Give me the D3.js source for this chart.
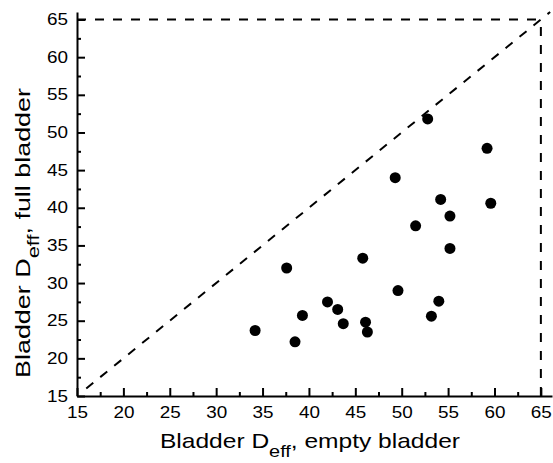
<!DOCTYPE html>
<html>
<head>
<meta charset="utf-8">
<script src="https://cdn.jsdelivr.net/npm/d3@7"></script>
<style>
  body { margin: 0; background: #fff; }
  svg { display: block; font-family: "Liberation Sans", Arial, sans-serif; }
  .axis path, .axis line { stroke: #000; stroke-width: 2; }
  .axis text { font-size: 16px; fill: #000; }
  .ref { fill: none; stroke: #000; stroke-width: 2; stroke-dasharray: 9,9; }
</style>
</head>
<body>
<div class="graph"></div>
<script>
// empty bladder Deff (x) vs full bladder Deff (y)
var emptyDeff = [52.8, 59.2, 49.3, 54.2, 59.6, 55.2, 51.5, 55.2, 45.8, 37.6, 49.6,
                 42.0, 54.0, 43.1, 39.3, 53.2, 43.7, 46.1, 46.3, 34.2, 38.5];
var fullDeff  = [51.8, 47.9, 44.0, 41.1, 40.6, 38.9, 37.6, 34.6, 33.3, 32.0, 29.0,
                 27.5, 27.6, 26.5, 25.7, 25.6, 24.6, 24.8, 23.5, 23.7, 22.2];
var majorTicks = [15, 20, 25, 30, 35, 40, 45, 50, 55, 60, 65];
var minorTicks = [17.5, 22.5, 27.5, 32.5, 37.5, 42.5, 47.5, 52.5, 57.5, 62.5];
var diagonal = [16, 66];

var options = { width: 553, height: 463 };

var points = emptyDeff.map(function(d, i) {
  return { x: d, y: fullDeff[i] };
});

var xScale = d3.scaleLinear().domain([15, 66.2]).range([77, 552]),
    yScale = d3.scaleLinear().domain([15, 66]).range([396, 12]);

var svg = d3.select(".graph").append("svg")
    .attr("width", options.width)
    .attr("height", options.height);

// reference lines
svg.append("line")
  .attr("class", "ref")
  .attr("x1", xScale(15)).attr("x2", xScale(65))
  .attr("y1", yScale(65)).attr("y2", yScale(65));

svg.append("line")
  .attr("class", "ref")
  .attr("x1", xScale(65)).attr("x2", xScale(65))
  .attr("y1", yScale(15)).attr("y2", yScale(65));

svg.append("line")
  .attr("class", "ref")
  .attr("x1", xScale(diagonal[0])).attr("y1", yScale(diagonal[0]))
  .attr("x2", xScale(diagonal[1])).attr("y2", yScale(diagonal[1]));

// axes
var xAxis = d3.axisBottom(xScale).tickValues(majorTicks).tickSizeInner(-8).tickSizeOuter(0).tickPadding(11),
    yAxis = d3.axisLeft(yScale).tickValues(majorTicks).tickSizeInner(-8).tickSizeOuter(0).tickPadding(9);

var gx = svg.append("g")
  .attr("class", "x axis")
  .attr("transform", "translate(0," + yScale(15) + ")")
  .call(xAxis);

svg.append("g")
  .attr("class", "x axis")
  .attr("transform", "translate(0," + yScale(15) + ")")
  .call(d3.axisBottom(xScale).tickValues(minorTicks).tickSize(-4).tickFormat(""))
  .select(".domain").remove();

var gy = svg.append("g")
  .attr("class", "y axis")
  .attr("transform", "translate(" + xScale(15) + ",0)")
  .call(yAxis);

svg.append("g")
  .attr("class", "y axis")
  .attr("transform", "translate(" + xScale(15) + ",0)")
  .call(d3.axisLeft(yScale).tickValues(minorTicks).tickSize(-4).tickFormat(""))
  .select(".domain").remove();

svg.selectAll(".axis text")
  .attr("textLength", 21)
  .attr("lengthAdjust", "spacingAndGlyphs");

// axis titles
var xt = svg.append("text")
  .attr("x", 310)
  .attr("y", 448)
  .attr("text-anchor", "middle")
  .attr("font-size", 21)
  .attr("textLength", 300)
  .attr("lengthAdjust", "spacingAndGlyphs");
xt.append("tspan").text("Bladder D");
xt.append("tspan").attr("font-size", 17).attr("dy", 9).text("eff");
xt.append("tspan").attr("dy", -9).text(", empty bladder");

var yt = svg.append("text")
  .attr("transform", "translate(30,233) rotate(-90)")
  .attr("text-anchor", "middle")
  .attr("font-size", 21)
  .attr("textLength", 290)
  .attr("lengthAdjust", "spacingAndGlyphs");
yt.append("tspan").text("Bladder D");
yt.append("tspan").attr("font-size", 17).attr("dy", 9).text("eff");
yt.append("tspan").attr("dy", -9).text(", full bladder");

// data points
svg.selectAll(".dot")
  .data(points)
  .enter().append("circle")
  .attr("class", "dot")
  .attr("cx", function(d) { return xScale(d.x); })
  .attr("cy", function(d) { return yScale(d.y); })
  .attr("r", 5.5)
  .attr("fill", "#000");
</script>
</body>
</html>
